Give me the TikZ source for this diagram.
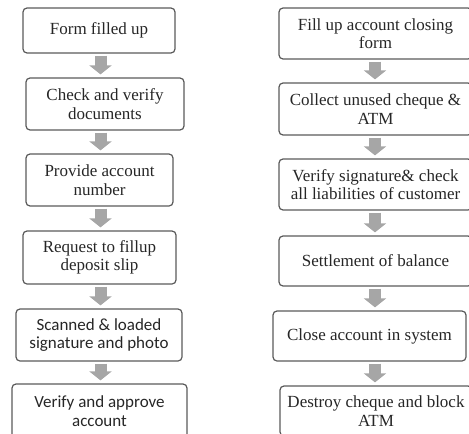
\documentclass[tikz,border=0pt]{standalone}
\usepackage{fontspec}
\setmainfont{Liberation Serif}
\newfontfamily\calfont{Carlito}
\usetikzlibrary{arrows.meta,calc}
\definecolor{boxline}{HTML}{5A5A5A}
\definecolor{arrowgray}{HTML}{A6A6A6}
\definecolor{txt}{HTML}{262626}
\tikzset{
  box/.style={draw=boxline, line width=1.2pt, rounded corners=4pt, align=center,
    text=txt, font=\fontsize{17}{18.5}\selectfont, inner sep=0pt},
  flow/.style={draw=arrowgray, line width=12pt, -{Triangle[width=22pt,length=9pt]}}
}
\begin{document}
\begin{tikzpicture}[x=1pt,y=-1pt]
\useasboundingbox (0,0) rectangle (469,434);
\clip (0,0) rectangle (469,434);
\coordinate (axL) at (100.5,0);
\coordinate (axR) at (375,0);
% left column
\node[box, minimum width=152pt, minimum height=45pt] (L1) at (99,30.5) {Form filled up};
\node[box, minimum width=158pt, minimum height=52pt] (L2) at (105,104) {Check and verify\\documents};
\node[box, minimum width=147pt, minimum height=52pt] (L3) at (99.5,180) {Provide account\\number};
\node[box, minimum width=153pt, minimum height=53pt] (L4) at (99.5,257.5) {Request to fillup\\deposit slip};
\node[box, minimum width=166pt, minimum height=52pt, font=\calfont\fontsize{17}{18.5}\selectfont] (L5) at (99,335) {Scanned \& loaded\\signature and photo};
\node[box, minimum width=175pt, minimum height=54pt, font=\calfont\fontsize{17}{18.5}\selectfont] (L6) at (99.5,411) {Verify and approve\\account};
% right column
\node[box, minimum width=193pt, minimum height=51pt] (R1) at (375.5,33.5) {Fill up account closing\\form};
\node[box, minimum width=193pt, minimum height=52pt] (R2) at (375.5,109) {Collect unused cheque \&\\ATM};
\node[box, minimum width=193pt, minimum height=51pt] (R3) at (375.5,184.5) {Verify signature\& check\\all liabilities of customer};
\node[box, minimum width=193pt, minimum height=50pt] (R4) at (375.5,261) {Settlement of balance};
\node[box, minimum width=193pt, minimum height=50pt] (R5) at (369.5,336) {Close account in system};
\node[box, minimum width=192pt, minimum height=50pt] (R6) at (376,411) {Destroy cheque and block\\ATM};
% arrows
\foreach \a/\b in {L1/L2,L2/L3,L3/L4,L4/L5,L5/L6}
  \draw[flow] ($(\a.south -| axL)+(0,2)$) -- ($(\b.north -| axL)+(0,-3)$);
\foreach \a/\b in {R1/R2,R2/R3,R3/R4,R4/R5,R5/R6}
  \draw[flow] ($(\a.south -| axR)+(0,2)$) -- ($(\b.north -| axR)+(0,-3)$);
\end{tikzpicture}
\end{document}
